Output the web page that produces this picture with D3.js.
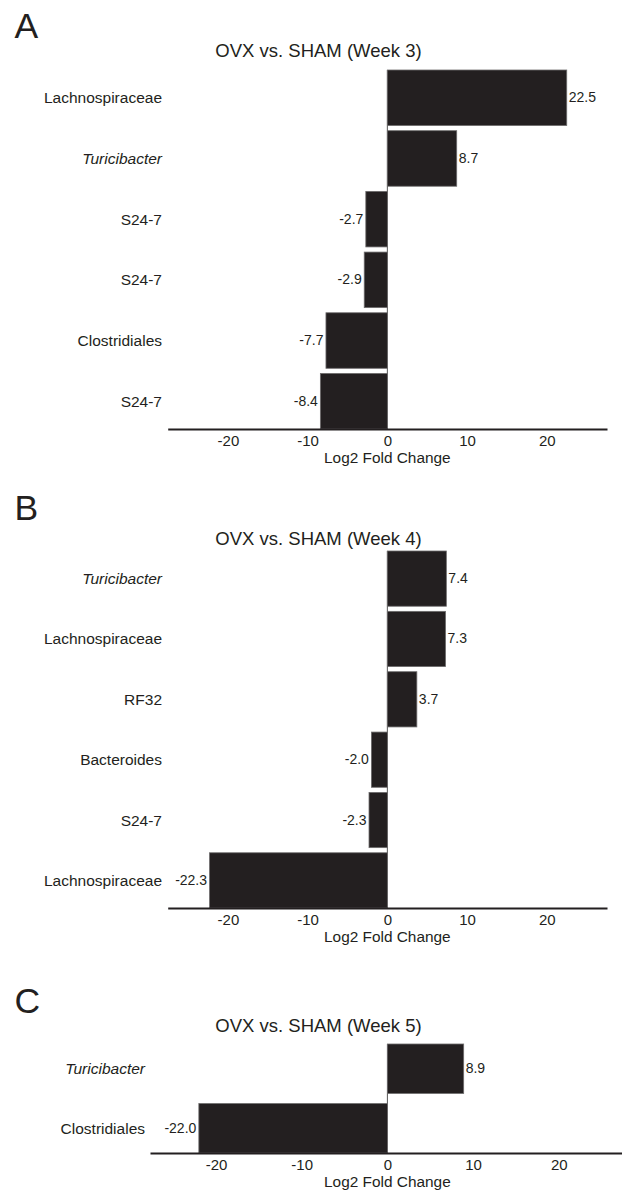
<!DOCTYPE html>
<html><head><meta charset="utf-8">
<script src="https://cdn.jsdelivr.net/npm/d3@7"></script>
<style>body{margin:0;background:#fff}svg{display:block}text{font-family:"Liberation Sans",Arial,sans-serif;fill:#231f20}</style>
</head><body><svg id="c" width="622" height="1192"></svg>
<script>
// ---- data ----
const titles = ["OVX vs. SHAM (Week 3)", "OVX vs. SHAM (Week 4)", "OVX vs. SHAM (Week 5)"];
const letters = ["A", "B", "C"];
const catsA = ["Lachnospiraceae", "Turicibacter", "S24-7", "S24-7", "Clostridiales", "S24-7"];
const valsA = [22.5, 8.7, -2.7, -2.9, -7.7, -8.4];
const catsB = ["Turicibacter", "Lachnospiraceae", "RF32", "Bacteroides", "S24-7", "Lachnospiraceae"];
const valsB = [7.4, 7.3, 3.7, -2.0, -2.3, -22.3];
const catsC = ["Turicibacter", "Clostridiales"];
const valsC = [8.9, -22.0];
const italicCats = ["Turicibacter"];
const tickVals = [-20, -10, 0, 10, 20];
const axisTitle = "Log2 Fold Change";

// ---- layout ----
const layouts = [
  {letterY: 37.5, titleY: 57, top: 70, bottom: 429, dom: [-27.55, 27.55], rng: [167.7, 607], labelX: 162, pad: 0.085},
  {letterY: 520, titleY: 545, top: 551, bottom: 908, dom: [-27.55, 27.55], rng: [167.7, 607], labelX: 162, pad: 0.085},
  {letterY: 1013, titleY: 1032, top: 1044, bottom: 1153, dom: [-27.7, 27.7], rng: [150, 624.8], labelX: 145, pad: 0.17}
];
const panels = [[catsA, valsA], [catsB, valsB], [catsC, valsC]];
const svg = d3.select("#c");
const ink = "#231f20";

panels.forEach(([cats, vals], p) => {
  const L = layouts[p];
  const g = svg.append("g");
  const x = d3.scaleLinear().domain(L.dom).range(L.rng);
  const y = d3.scaleBand().domain(d3.range(cats.length)).range([L.top, L.bottom]).paddingInner(L.pad).paddingOuter(0);
  g.append("text").attr("x", 14.5).attr("y", L.letterY).attr("font-size", 35.5).text(letters[p]);
  g.append("text").attr("x", 318.5).attr("y", L.titleY).attr("text-anchor", "middle").attr("font-size", 18.5).text(titles[p]);
  // zero line
  g.append("line").attr("x1", x(0)).attr("x2", x(0)).attr("y1", L.top).attr("y2", L.bottom).attr("stroke", "#555").attr("stroke-width", 1);
  g.selectAll("rect.bar").data(vals).join("rect").attr("class", "bar")
    .attr("x", d => x(Math.min(0, d))).attr("width", d => Math.abs(x(d) - x(0)))
    .attr("y", (d, i) => y(i)).attr("height", y.bandwidth())
    .attr("fill", ink).attr("stroke", "#6d6b6c").attr("stroke-width", 0.8);
  g.selectAll("text.val").data(vals).join("text").attr("class", "val")
    .attr("x", d => d >= 0 ? x(d) + 2 : x(d) - 2.5)
    .attr("y", (d, i) => y(i) + y.bandwidth() / 2 + 4.5)
    .attr("text-anchor", d => d >= 0 ? "start" : "end")
    .attr("font-size", 14).text(d => d.toFixed(1));
  g.selectAll("text.cat").data(cats).join("text").attr("class", "cat")
    .attr("x", L.labelX).attr("y", (d, i) => y(i) + y.bandwidth() / 2 + 5.5)
    .attr("text-anchor", "end").attr("font-size", 15.5)
    .attr("font-style", d => italicCats.includes(d) ? "italic" : "normal").text(d => d);
  // axis
  const ax = g.append("g").attr("transform", `translate(0,${L.bottom})`)
    .call(d3.axisBottom(x).tickValues(tickVals).tickSize(0).tickFormat(d => String(d)));
  ax.select(".domain").attr("stroke", ink).attr("stroke-width", 2);
  ax.selectAll(".tick text").attr("y", 17).attr("dy", 0).attr("font-size", 15).attr("fill", ink)
    .attr("font-family", '"Liberation Sans",Arial,sans-serif');
  g.append("text").attr("x", x(0)).attr("y", L.bottom + 34).attr("text-anchor", "middle").attr("font-size", 15.4).text(axisTitle);
});
</script></body></html>
